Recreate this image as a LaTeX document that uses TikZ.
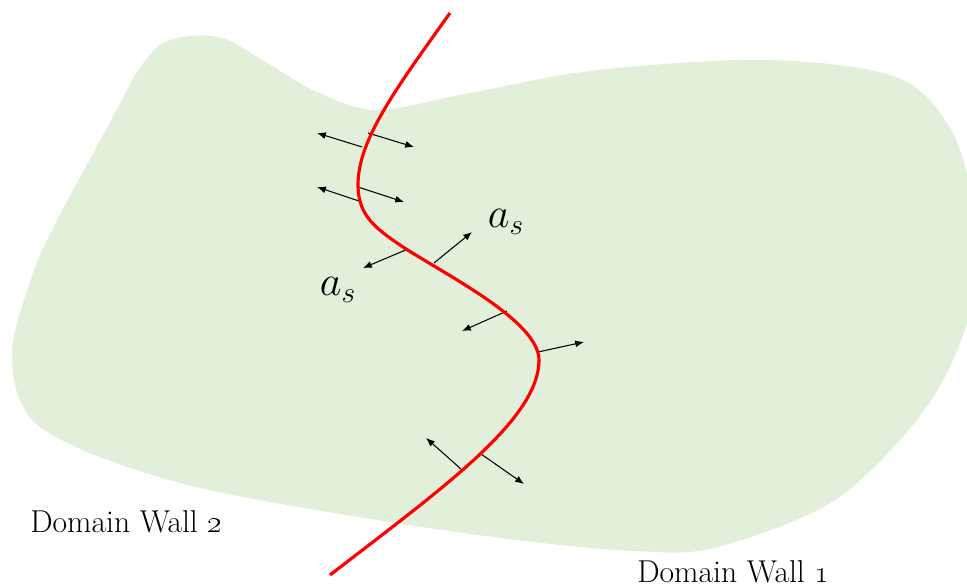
\RequirePackage{fix-cm}
\documentclass[tikz,border=0pt]{standalone}
\usepackage{tikz}
\usetikzlibrary{arrows.meta}
\definecolor{WallRed}{HTML}{FF0000}
\definecolor{DomainGreen}{HTML}{E2EFDA}

\begin{document}
\begin{tikzpicture}[x=0.02cm,y=-0.02cm,
  normalarrow/.style={-{Latex[length=5pt,width=4pt]},line width=0.6pt},
  walltext/.style={font=\fontsize{18}{21}\selectfont,inner sep=0pt,anchor=base west},
  mathtext/.style={font=\fontsize{24}{28}\selectfont,inner sep=0pt}]
  \useasboundingbox (0,0) rectangle (967,587);
  \clip (0,0) rectangle (967,587);
  % Domain region
  \fill[DomainGreen] plot[smooth cycle,tension=0.55] coordinates {
    (122,100) (137,72) (160,45) (190,36) (225,39) (267,63) (317,92)
    (377,110) (470,93) (598,70) (768,60) (896,77) (950,128) (972,200)
    (975,290) (947,373) (900,440) (827,505) (714,548) (635,551) (516,540)
    (358,517) (200,488) (100,457) (40,427) (18,395) (12,355) (18,320)
    (38,260) (65,205) (95,150)};

  % Normal vectors along the wall
  \foreach \sx/\sy/\ex/\ey in {368/133/414/147, 362/147/317/133,
      358/187/404/202, 362/202/317/187, 434/263/472/232, 408/249/363/268,
      507/311/462/331, 538/352/584/342, 481/454/524/484, 461/469/426/438}
    \draw[normalarrow] (\sx,\sy) -- (\ex,\ey);

  % Domain wall
  \draw[WallRed,line width=1.8pt] (450,13)
    .. controls (395,90) and (358,140) .. (358,185)
    .. controls (358,215) and (375,228) .. (400,245)
    .. controls (440,272) and (539,320) .. (539,360)
    .. controls (539,420) and (440,490) .. (330,575);

  \node[mathtext] (as-up) at (506,222) {$a_s$};
  \node[mathtext] (as-low) at (338,290) {$a_s$};
  \node[walltext] (dw2) at (30,532) {Domain Wall \oldstylenums{2}};
  \node[walltext] (dw1) at (637,582) {Domain Wall \oldstylenums{1}};
\end{tikzpicture}
\end{document}
